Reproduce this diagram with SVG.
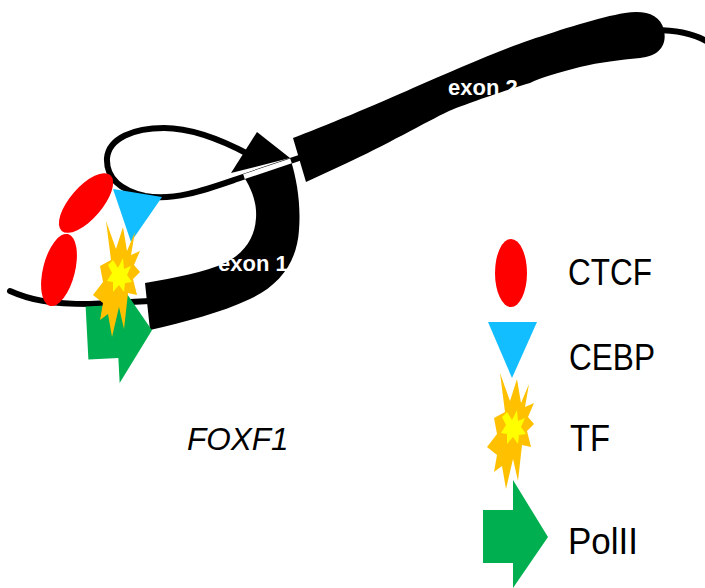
<svg xmlns="http://www.w3.org/2000/svg" width="705" height="588" viewBox="0 0 705 588">
  <style>
    .strand { fill: none; stroke: #000; stroke-width: 6; stroke-linecap: round; stroke-linejoin: round; }
    .gap { fill: none; stroke: #fff; stroke-width: 5; stroke-linecap: butt; }
    .exon { fill: #000; }
    .exon-label { font-family: "Liberation Sans", Arial, sans-serif; font-weight: bold; font-size: 22px; fill: #fff; }
    .legend-label { font-family: "Liberation Sans", Arial, sans-serif; font-size: 37px; fill: #000; }
    .gene-label { font-family: "Liberation Sans", Arial, sans-serif; font-style: italic; font-size: 31.5px; fill: #000; }
    .ctcf { fill: #ff0000; }
    .cebp { fill: #12beff; }
    .polii { fill: #00b050; }
    .tf-outer { fill: #ffc000; }
    .tf-inner { fill: #ffff00; }
  </style>
  <defs>
    <!-- transcription factor burst, centred on the origin -->
    <g id="tf-star">
      <polygon class="tf-outer" points="-12,-57 -2,-29 5,-51 9,-27 17,-46 13,-23 22,-27 16,-13 22,-6 15,1 19,17 10,15 6,51 1,29 -6,59 -10,36 -18,42 -15,25 -25,17 -15,4 -18,-12 -7,-18"/>
      <polygon class="tf-inner" points="-5,-18 0,-10 5,-20 6,-9 13,-12 9,-3 14,4 7,5 6,14 1,7 -5,14 -5,4 -11,3 -6,-5 -10,-13"/>
    </g>
    <!-- Pol II block arrow, anchored at the middle of its base -->
    <polygon id="polii-arrow" class="polii" points="-30,-27 0,-27 0,-57 35,0 0,51 0,26 -30,26"/>
  </defs>

  <!-- thin DNA strand and loop -->
  <g id="connectors">
    <path id="strand-left" class="strand" d="M10,291 C30,300 50,304 90,304 L150,301"/>
    <path id="strand-loop" class="strand" d="M250,155 C222,140 192,128 164,128 C134,128 109,138 107,158 C106,178 120,190 145,196 C175,201 205,190 237,179 L305,156"/>
    <path id="strand-right" class="strand" d="M655,30 C678,30 694,34 706,41"/>
  </g>

  <!-- exon 2 -->
  <g id="exon2">
    <path class="exon" d="M293,138 C320,128 380,103 413,88 C450,72 500,50 530,40 C560,30 600,17 625,13 C645,10 660,14 664,30 C667,45 660,56 640,58 C620,60 600,62 580,67 C560,72 540,78 530,83 C500,92 460,106 447,112 C430,120 380,148 347,163 L306,182 Z"/>
    <text class="exon-label" x="448" y="95">exon 2</text>
  </g>

  <!-- exon 1 with the transcription start arrow; the strand shows white where it crosses -->
  <g id="exon1">
    <path class="exon" d="M145,283 C175,278 205,272 225,263 C245,253 255,237 256,218 C257,203 252,190 244,177 L291,161 C297,180 301,205 299,230 C297,262 280,285 250,299 C220,313 185,322 150,330 Z"/>
    <polygon class="exon" points="257,132 231,173 290,158"/>
    <line class="gap" x1="244" y1="176.6" x2="291" y2="160.8"/>
    <text class="exon-label" x="218" y="271">exon 1</text>
  </g>

  <!-- proteins bound at the promoter -->
  <g id="ctcf-upper">
    <ellipse class="ctcf" cx="86" cy="203" rx="37" ry="16" transform="rotate(-49 86 203)"/>
  </g>
  <g id="ctcf-lower">
    <ellipse class="ctcf" cx="59" cy="270" rx="16" ry="37" transform="rotate(14 59 270)"/>
  </g>
  <g id="cebp">
    <polygon class="cebp" points="113,189 162,197 131,242"/>
  </g>
  <g id="polii">
    <use href="#polii-arrow" transform="translate(117,332) rotate(-3)"/>
  </g>
  <g id="tf">
    <use href="#tf-star" transform="translate(118,278)"/>
  </g>

  <!-- gene name -->
  <g id="gene-name">
    <text class="gene-label" x="187" y="450">FOXF1</text>
  </g>

  <!-- legend -->
  <g id="legend-ctcf">
    <ellipse class="ctcf" cx="511" cy="273" rx="16" ry="34"/>
    <text class="legend-label" x="568" y="285" textLength="84" lengthAdjust="spacingAndGlyphs">CTCF</text>
  </g>
  <g id="legend-cebp">
    <polygon class="cebp" points="488,322 537,322 512,378"/>
    <text class="legend-label" x="569" y="370" textLength="86" lengthAdjust="spacingAndGlyphs">CEBP</text>
  </g>
  <g id="legend-tf">
    <use href="#tf-star" transform="translate(512,430)"/>
    <text class="legend-label" x="570" y="451" textLength="40" lengthAdjust="spacingAndGlyphs">TF</text>
  </g>
  <g id="legend-polii">
    <use href="#polii-arrow" transform="translate(513,537)"/>
    <text class="legend-label" x="568" y="554" textLength="70" lengthAdjust="spacingAndGlyphs">PolII</text>
  </g>
</svg>
